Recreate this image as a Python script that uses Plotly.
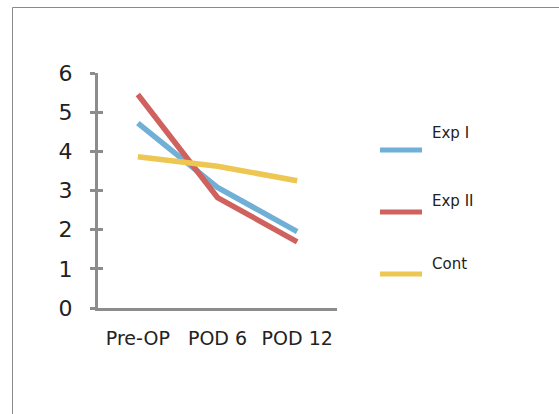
import plotly.graph_objects as go

categories = ["Pre-OP", "POD 6", "POD 12"]
series_names = ["Exp I", "Exp II", "Cont"]
exp1 = [4.72, 3.08, 1.95]
exp2 = [5.45, 2.82, 1.69]
cont = [3.86, 3.62, 3.25]
colors = ["#70B0D6", "#CF625E", "#EEC652"]
y_ticks = [0, 1, 2, 3, 4, 5, 6]

W, H = 559, 414
L, R, T, B = 98, 337, 73, 308

FONT = "DejaVu Sans, sans-serif"

fig = go.Figure()
for name, vals, c in zip(series_names, [exp1, exp2, cont], colors):
    fig.add_trace(go.Scatter(x=[0, 1, 2], y=vals, mode="lines", name=name,
                             line=dict(color=c, width=5.5), showlegend=False))

def px_x(p):
    return (p - L) / (R - L)

def px_y(p):
    return (B - p) / (B - T)

shapes = []
annotations = []
# outer border
shapes.append(dict(type="rect", xref="paper", yref="paper",
                   x0=px_x(12.5), x1=px_x(620), y0=px_y(480), y1=px_y(7.5),
                   line=dict(color="#8a8a8a", width=1), fillcolor="rgba(0,0,0,0)", layer="below"))
# legend
leg_line_y = [150, 212, 274]
leg_text_y = [133, 201, 264]
for name, c, ly, ty in zip(series_names, colors, leg_line_y, leg_text_y):
    shapes.append(dict(type="line", xref="paper", yref="paper",
                       x0=px_x(380), x1=px_x(422), y0=px_y(ly), y1=px_y(ly),
                       line=dict(color=c, width=5)))
    annotations.append(dict(xref="paper", yref="paper", x=px_x(430), y=px_y(ty),
                            xanchor="left", yanchor="middle", showarrow=False,
                            text=name, font=dict(family=FONT, size=15, color="#222")))

fig.update_layout(
    width=W, height=H,
    margin=dict(l=L, r=W - R, t=T, b=H - B, pad=0),
    paper_bgcolor="white", plot_bgcolor="white",
    shapes=shapes, annotations=annotations,
    xaxis=dict(range=[-0.5, 2.5], tickvals=[0, 1, 2], ticktext=categories,
               showgrid=False, zeroline=False, showline=True,
               linecolor="#8c8c8c", linewidth=3, ticks="",
               tickfont=dict(family=FONT, size=19, color="#222"),
               ticklabelstandoff=11, fixedrange=True),
    yaxis=dict(range=[0, 6], tickvals=y_ticks, showgrid=False, zeroline=False,
               showline=True, linecolor="#8c8c8c", linewidth=3,
               ticks="outside", ticklen=5, tickwidth=3, tickcolor="#8c8c8c",
               tickfont=dict(family=FONT, size=22, color="#222"),
               ticklabelstandoff=13, fixedrange=True),
    yaxis2=dict(range=[0, 6], tickvals=y_ticks, overlaying="y", side="left",
                showgrid=False, zeroline=False, showline=False,
                ticks="inside", ticklen=5, tickwidth=3, tickcolor="#8c8c8c",
                showticklabels=False, fixedrange=True),
)
fig.add_trace(go.Scatter(x=[None], y=[None], yaxis="y2", showlegend=False, hoverinfo="skip"))

fig.write_html("out.html")
